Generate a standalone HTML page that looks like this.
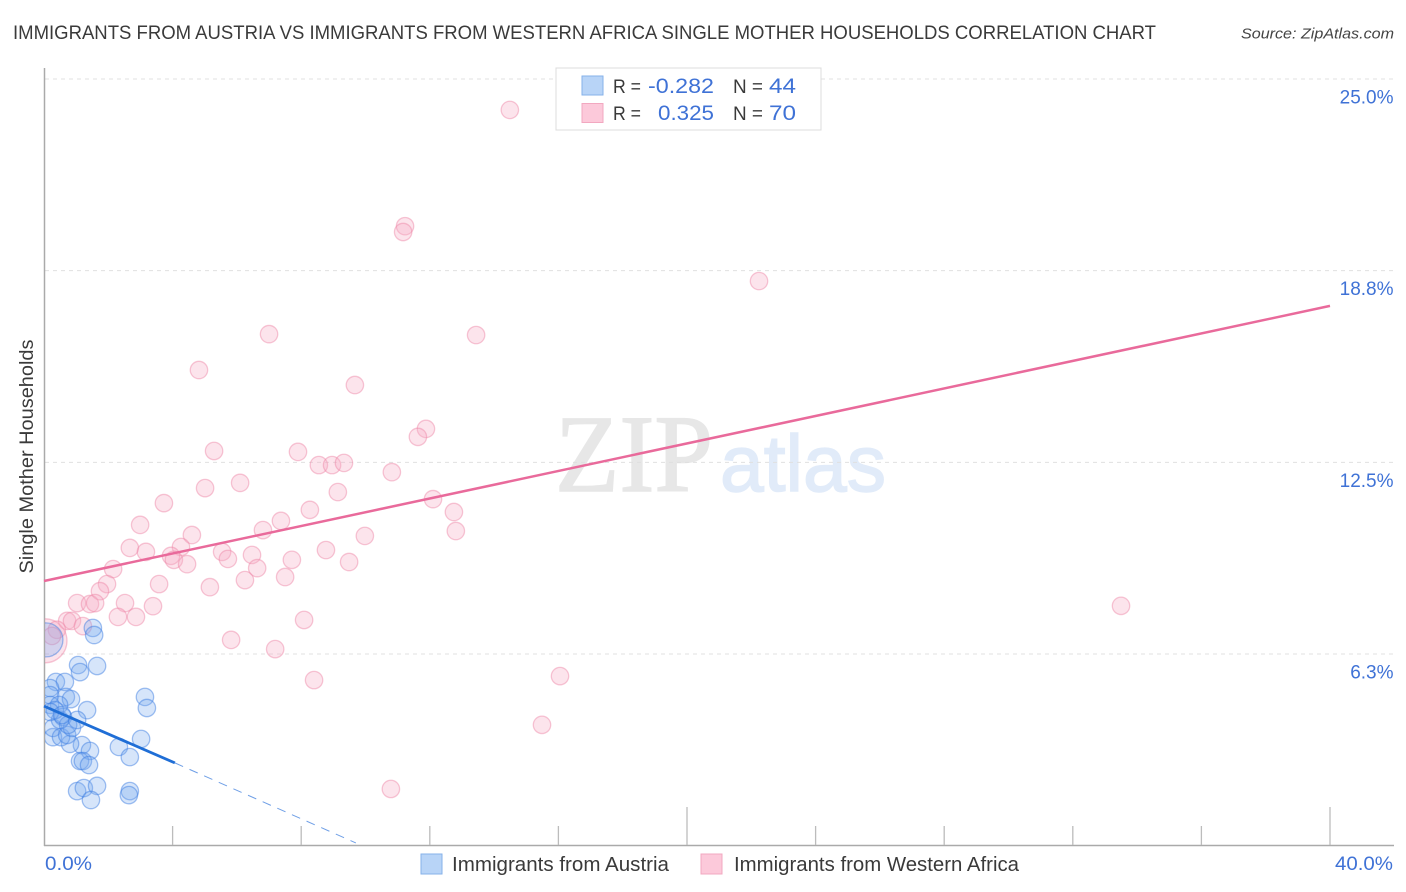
<!DOCTYPE html>
<html>
<head>
<meta charset="utf-8">
<title>Single Mother Households Correlation Chart</title>
<style>
html,body{margin:0;padding:0;background:#fff;width:1406px;height:892px;overflow:hidden}
svg{display:block}
text{font-family:"Liberation Sans",sans-serif}
</style>
</head>
<body>
<svg id="chart" xmlns="http://www.w3.org/2000/svg" width="1406" height="892" viewBox="0 0 1406 892">
<defs><clipPath id="plot-clip"><rect x="45" y="60" width="1349" height="785"/></clipPath></defs>
<text x="13" y="39" font-size="19.5" fill="#3a3a3a" textLength="1143" lengthAdjust="spacingAndGlyphs">IMMIGRANTS FROM AUSTRIA VS IMMIGRANTS FROM WESTERN AFRICA SINGLE MOTHER HOUSEHOLDS CORRELATION CHART</text>
<text x="1394" y="38.5" font-size="15" font-style="italic" fill="#444" text-anchor="end" textLength="153" lengthAdjust="spacingAndGlyphs">Source: ZipAtlas.com</text>
<text x="555" y="491" style="font-family:'Liberation Serif',serif" font-size="110" fill="#e7e7e7" stroke="#e7e7e7" stroke-width="1.5" textLength="158" lengthAdjust="spacingAndGlyphs">ZIP</text>
<text x="720" y="491" font-size="80" fill="#e1ebf9" stroke="#e1ebf9" stroke-width="1.5" textLength="166" lengthAdjust="spacingAndGlyphs">atlas</text>
<g id="grid"></g>
<g id="axes"></g>
<g id="y-labels"></g>
<g id="marks" clip-path="url(#plot-clip)"></g>
<g id="trends"></g>
<text transform="translate(33,456.5) rotate(-90)" font-size="19" fill="#3a3a3a" text-anchor="middle" textLength="234" lengthAdjust="spacingAndGlyphs">Single Mother Households</text>
<text x="45" y="870" font-size="19" fill="#3f72d6" textLength="47" lengthAdjust="spacingAndGlyphs">0.0%</text>
<text x="1335" y="870" font-size="19" fill="#3f72d6" textLength="58" lengthAdjust="spacingAndGlyphs">40.0%</text>
<g>
<rect x="556" y="68" width="265" height="62" fill="#fff" stroke="#dcdcdc" stroke-width="1"/>
<rect x="582" y="76" width="21" height="19" fill="#b8d4f7" stroke="#86b2ea"/>
<rect x="582" y="103.500" width="21" height="19" fill="#fcc9da" stroke="#f2a8c0"/>
<text x="613" y="93" font-size="19" fill="#3a3a3a" textLength="28" lengthAdjust="spacingAndGlyphs">R =</text>
<text x="648" y="93" font-size="21.500" fill="#3f72d6" textLength="66" lengthAdjust="spacingAndGlyphs">-0.282</text>
<text x="733" y="93" font-size="19" fill="#3a3a3a" textLength="30" lengthAdjust="spacingAndGlyphs">N =</text>
<text x="769" y="93" font-size="21.500" fill="#3f72d6" textLength="27" lengthAdjust="spacingAndGlyphs">44</text>
<text x="613" y="120" font-size="19" fill="#3a3a3a" textLength="28" lengthAdjust="spacingAndGlyphs">R =</text>
<text x="658" y="120" font-size="21.500" fill="#3f72d6" textLength="56" lengthAdjust="spacingAndGlyphs">0.325</text>
<text x="733" y="120" font-size="19" fill="#3a3a3a" textLength="30" lengthAdjust="spacingAndGlyphs">N =</text>
<text x="769" y="120" font-size="21.500" fill="#3f72d6" textLength="27" lengthAdjust="spacingAndGlyphs">70</text>
</g>
<g>
<rect x="421" y="854" width="21" height="20" fill="#b8d4f7" stroke="#86b2ea"/>
<text x="452" y="871" font-size="20" fill="#3a3a3a" textLength="217" lengthAdjust="spacingAndGlyphs">Immigrants from Austria</text>
<rect x="701" y="854" width="21" height="20" fill="#fcc9da" stroke="#f2a8c0"/>
<text x="734" y="871" font-size="20" fill="#3a3a3a" textLength="285" lengthAdjust="spacingAndGlyphs">Immigrants from Western Africa</text>
</g>
</svg>
<script>
const xTickValues = [0,4,8,12,16,20,24,28,32,36,40];
const yTickValues = [6.25,12.5,18.75,25];
const yTickLabels = ["6.3%","12.5%","18.8%","25.0%"];

const austriaX = [0.06,1.06,1.12,1.65,1.52,1.56,0.37,0.65,0.19,0.19,0.68,0.84,0.19,0.47,1.34,3.14,3.2,3.02,2.33,2.67,1.18,1.43,1.12,1.21,1.4,1.03,1.24,1.65,1.46,2.67,2.64,0.28,0.81,0.28,0.53,0.72,0.87,0.59,0.5,0.75,1.03,0.34,0.19,0.56];
const austriaY = [6.71,5.89,5.66,5.86,7.1,6.87,5.34,5.34,5.14,4.91,4.85,4.78,4.59,4.59,4.42,4.85,4.49,3.48,3.22,2.89,3.28,3.09,2.76,2.76,2.63,1.78,1.88,1.95,1.49,1.78,1.65,3.54,3.32,3.84,3.54,3.61,3.84,4.2,4.1,3.94,4.1,4.42,4.36,4.26];

const westernAfricaX = [0.03,14.49,11.23,11.17,22.24,7.0,13.44,4.82,9.67,11.88,11.63,5.29,7.9,8.55,8.96,9.33,10.82,5.01,6.1,9.14,3.73,12.1,12.75,12.81,8.27,7.37,6.81,2.99,4.6,9.98,2.67,3.17,4.26,8.77,5.54,6.47,3.95,4.04,4.45,5.72,7.71,9.49,6.63,2.15,1.96,3.58,6.25,7.5,5.16,1.74,2.52,3.39,1.03,1.43,1.59,2.3,2.86,8.09,0.72,0.87,1.21,5.82,7.19,8.4,16.05,15.49,10.79,33.5,0.4,0.25];
const westernAfricaY = [6.68,23.99,20.2,20.01,18.41,16.68,16.65,15.51,15.02,13.59,13.33,12.87,12.84,12.41,12.41,12.48,12.18,11.66,11.83,11.53,11.17,11.3,10.88,10.26,10.95,10.59,10.29,10.46,10.13,10.1,9.71,9.58,9.74,9.64,9.58,9.48,9.45,9.32,9.18,9.35,9.32,9.25,9.05,9.02,8.53,8.53,8.66,8.76,8.43,8.3,7.91,7.81,7.91,7.88,7.91,7.46,7.46,7.36,7.33,7.33,7.16,6.71,6.41,5.4,5.53,3.94,1.85,7.82,7.04,6.84];

const austriaTrendX = [0,4.07];
const austriaTrendY = [4.55,2.7];
const austriaDashX = [4.07,9.7];
const austriaDashY = [2.7,0.09];
const westernAfricaTrendX = [0,40];
const westernAfricaTrendY = [8.63,17.6];

const NS = "http://www.w3.org/2000/svg";
function sx(v){ return 44 + v * 32.15; }
function sy(v){ return 845.7 - v * 30.67; }
function make(tag, attrs, parent){
  const el = document.createElementNS(NS, tag);
  for (const k in attrs) el.setAttribute(k, attrs[k]);
  parent.appendChild(el);
  return el;
}
const grid = document.getElementById('grid');
const axes = document.getElementById('axes');
const yLabels = document.getElementById('y-labels');
const marks = document.getElementById('marks');
const trends = document.getElementById('trends');

yTickValues.forEach(function(v, i){
  const line = make('line', {x1:45, x2:1394, y1:sy(v), y2:sy(v), stroke:'#e0e0e0', 'stroke-width':1, 'stroke-dasharray':'4 4'}, grid);
  
  
  const label = make('text', {x:1393.5, y:sy(v)+24.5, 'font-size':19, fill:'#3f72d6', 'text-anchor':'end'}, yLabels);
  label.textContent = yTickLabels[i];
  
  
});

const yAxis = make('line', {x1:44.5, x2:44.5, y1:68, y2:846, stroke:'#aaa', 'stroke-width':1.5}, axes);


const xAxis = make('line', {x1:44, x2:1394, y1:845.5, y2:845.5, stroke:'#aaa', 'stroke-width':1.5}, axes);


xTickValues.forEach(function(v, i){
  if (i === 0) return;
  const top = (i % 5 === 0) ? 807 : 826;
  const t = make('line', {x1:sx(v), x2:sx(v), y1:top, y2:845, stroke:'#bcbcbc', 'stroke-width':1.3}, axes);
  
  
});

westernAfricaX.forEach(function(v, i){
  const c = make('circle', {cx:sx(v), cy:sy(westernAfricaY[i]), r:(i === 0 ? 22 : 8.7), fill:'rgba(247,170,195,0.32)', stroke:'rgba(238,130,165,0.45)', 'stroke-width':1.3}, marks);
  
  
});
austriaX.forEach(function(v, i){
  const c = make('circle', {cx:sx(v), cy:sy(austriaY[i]), r:(i === 0 ? 17 : 8.7), fill:'rgba(120,170,238,0.3)', stroke:'rgba(60,125,225,0.48)', 'stroke-width':1.3}, marks);
  
  
});

const wt = make('line', {x1:sx(westernAfricaTrendX[0]), y1:sy(westernAfricaTrendY[0]), x2:sx(westernAfricaTrendX[1]), y2:sy(westernAfricaTrendY[1]), stroke:'#e96a9b', 'stroke-width':2.5}, trends);


const at = make('line', {x1:sx(austriaTrendX[0]), y1:sy(austriaTrendY[0]), x2:sx(austriaTrendX[1]), y2:sy(austriaTrendY[1]), stroke:'#1f6ed6', 'stroke-width':2.8}, trends);


const ad = make('line', {x1:sx(austriaDashX[0]), y1:sy(austriaDashY[0]), x2:sx(austriaDashX[1]), y2:sy(austriaDashY[1]), stroke:'#6f9fe6', 'stroke-width':1, 'stroke-dasharray':'9 7'}, trends);


</script>
</body>
</html>
